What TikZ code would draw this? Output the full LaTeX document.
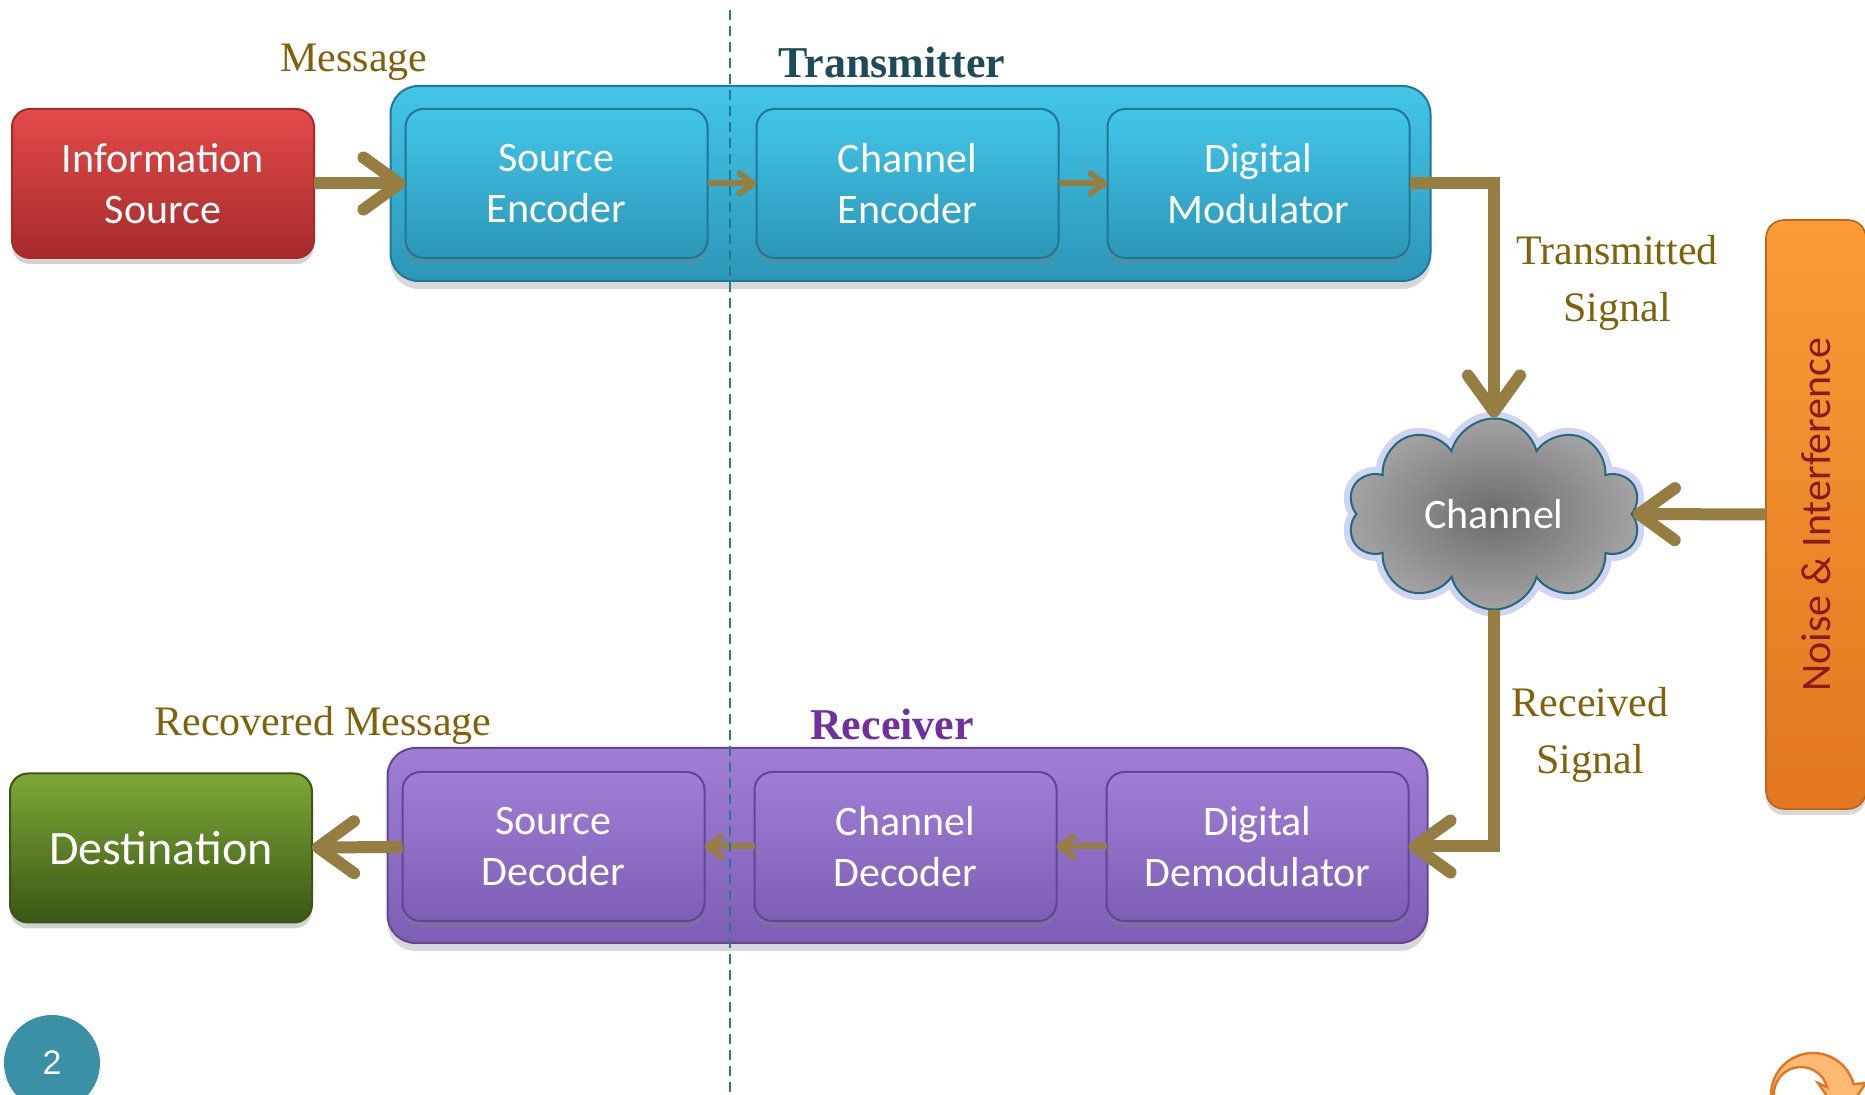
\documentclass[tikz,border=0pt]{standalone}
\usepackage{fontspec}
\setmainfont{Carlito}
\newfontfamily\etiquetafont{Liberation Serif}
\newfontfamily\numerofont{Liberation Sans}
\usepackage{tikz}
\usetikzlibrary{arrows.meta, positioning, shapes.symbols, shadows}
\definecolor{flecha}{RGB}{150, 125, 66}
\definecolor{etiqueta}{RGB}{128, 98, 10}
\definecolor{azulclaro}{RGB}{66, 198, 232}
\definecolor{azulmedio}{RGB}{44, 150, 184}
\definecolor{azulborde}{RGB}{36, 118, 148}
\definecolor{moradoclaro}{RGB}{160, 126, 214}
\definecolor{moradomedio}{RGB}{126, 94, 180}
\definecolor{moradoborde}{RGB}{98, 70, 148}
\definecolor{rojoclaro}{RGB}{228, 74, 74}
\definecolor{rojooscuro}{RGB}{166, 42, 42}
\definecolor{verdeclaro}{RGB}{126, 168, 56}
\definecolor{verdeoscuro}{RGB}{58, 86, 20}
\definecolor{naranjaclaro}{RGB}{250, 156, 54}
\definecolor{naranjaoscuro}{RGB}{226, 118, 32}
\definecolor{tituloazul}{RGB}{30, 74, 90}
\definecolor{titulomorado}{RGB}{112, 48, 160}
\definecolor{lineaguia}{RGB}{40, 120, 145}
\definecolor{circulo}{RGB}{58, 145, 166}
\definecolor{halo}{RGB}{160, 172, 228}
\definecolor{nubeborde}{RGB}{36, 104, 124}
\definecolor{ruido}{RGB}{140, 26, 26}

\begin{document}
\begin{tikzpicture}[x=0.5pt, y=-0.5pt,
    block/.style={rectangle, rounded corners=9pt, minimum width=151pt, minimum height=74.5pt,
                  align=center, text=white, font=\fontsize{21}{25.5}\selectfont, outer sep=0pt,
                  line width=1pt,
                  drop shadow={shadow xshift=0pt, shadow yshift=-3pt, opacity=0.35}},
    txblock/.style={block, top color=azulclaro, bottom color=azulmedio, draw=azulborde},
    rxblock/.style={block, top color=moradoclaro, bottom color=moradomedio, draw=moradoborde},
    groupbox/.style={rectangle, rounded corners=14pt, minimum width=520pt, minimum height=97.5pt,
                  outer sep=0pt, line width=1pt,
                  drop shadow={shadow xshift=0pt, shadow yshift=-4pt, opacity=0.3}},
    arrow/.style={-{Straight Barb[length=18pt, width=26pt, round]}, line width=6pt, flecha},
    smallarrow/.style={-{Straight Barb[length=7pt, width=10pt, round]}, line width=3pt, flecha},
    sigtext/.style={font=\etiquetafont\fontsize{21}{28.5}\selectfont, text=etiqueta, align=center},
    titletext/.style={font=\etiquetafont\bfseries\fontsize{22}{26}\selectfont},
    guia/.style={lineaguia, line width=1pt, dash pattern=on 5pt off 3pt}
]
\clip (0,0) rectangle (1865,1095);
\fill [white] (0,0) rectangle (1865,1095);

% transmisor
\node (txgroup) [groupbox, top color=azulclaro, bottom color=azulmedio, draw=azulborde] at (910.5,183.5) {};
\node (infosrc) [block, top color=rojoclaro, bottom color=rojooscuro, draw=rojooscuro] at (163,183.5) {Information\\Source};
\node (srcenc) [txblock] at (556.5,183.5) {Source\\Encoder};
\node (chenc) [txblock, right=24.5pt of srcenc] {Channel\\Encoder};
\node (digmod) [txblock, right=24.5pt of chenc] {Digital\\Modulator};

% receptor
\node (rxgroup) [groupbox, top color=moradoclaro, bottom color=moradomedio, draw=moradoborde] at (907.5,845.5) {};
\node (dest) [block, top color=verdeclaro, bottom color=verdeoscuro, draw=verdeoscuro,
              font=\fontsize{24}{28}\selectfont] at (161,848) {Destination};
\node (srcdec) [rxblock] at (553.5,846.5) {Source\\Decoder};
\node (chdec) [rxblock, right=25pt of srcdec] {Channel\\Decoder};
\node (demod) [rxblock, right=25pt of chdec] {Digital\\Demodulator};

% canal y ruido
\node (channel) [cloud, cloud puffs=10, cloud ignores aspect, minimum width=146.5pt, minimum height=95.5pt,
                 draw=nubeborde, line width=1pt, inner color=black!58, outer color=black!36,
                 preaction={draw=halo, line width=7pt, opacity=0.5}] at (1494,514) {};
\node (chtxt) [text=white, font=\fontsize{21}{25}\selectfont] at (channel.center) {Channel};
\node (noise) [rectangle, rounded corners=9pt, minimum width=50pt, minimum height=294.5pt, outer sep=0pt,
               top color=naranjaclaro, bottom color=naranjaoscuro, draw=naranjaoscuro!85!black, line width=0.8pt,
               drop shadow={shadow xshift=0pt, shadow yshift=-3pt, opacity=0.3}] at (1816,514.5) {};
\node (noisetxt) [rotate=90, text=ruido, font=\fontsize{21}{24}\selectfont] at (noise.center) {Noise \& Interference};

% flechas
\draw [arrow] (infosrc) -- (srcenc);
\draw [smallarrow] (srcenc) -- (chenc);
\draw [smallarrow] (chenc) -- (digmod);
\draw [arrow] (digmod.east) -| (channel.north);
\draw [arrow] (noise.west) -- (channel.east);
\draw [arrow] (channel.south) |- (demod.east);
\draw [smallarrow] (demod) -- (chdec);
\draw [smallarrow] (chdec) -- (srcdec);
\draw [arrow] (srcdec) -- (dest);

% etiquetas
\node (msg) [sigtext] at (354,62) {Message};
\node (txtitle) [titletext, text=tituloazul] at (892,62) {Transmitter};
\node (txsig) [sigtext] at (1617,283) {Transmitted\\Signal};
\node (rxsig) [sigtext] at (1590,735) {Received\\Signal};
\node (rxtitle) [titletext, text=titulomorado] at (892,724) {Receiver};
\node (recmsg) [sigtext] at (323,725) {Recovered Message};

% guia y pagina
\coordinate (guiatop) at (730,10);
\coordinate (guiabot) at (730,1095);
\draw [guia] (guiatop) -- (guiabot);
\node (pagenum) [circle, fill=circulo, minimum size=48pt, inner sep=0pt, text=white,
                 font=\numerofont\fontsize{17}{20}\selectfont] at (52,1063) {2};
\filldraw [fill=orange!55!white, draw=naranjaoscuro, line width=1.2pt]
    (1771,1095) arc (180:345:42) -- (1866,1083) -- (1842,1118) -- (1818,1083)
    -- ++(9,4) arc (345:180:27) -- cycle;
\end{tikzpicture}
\end{document}
